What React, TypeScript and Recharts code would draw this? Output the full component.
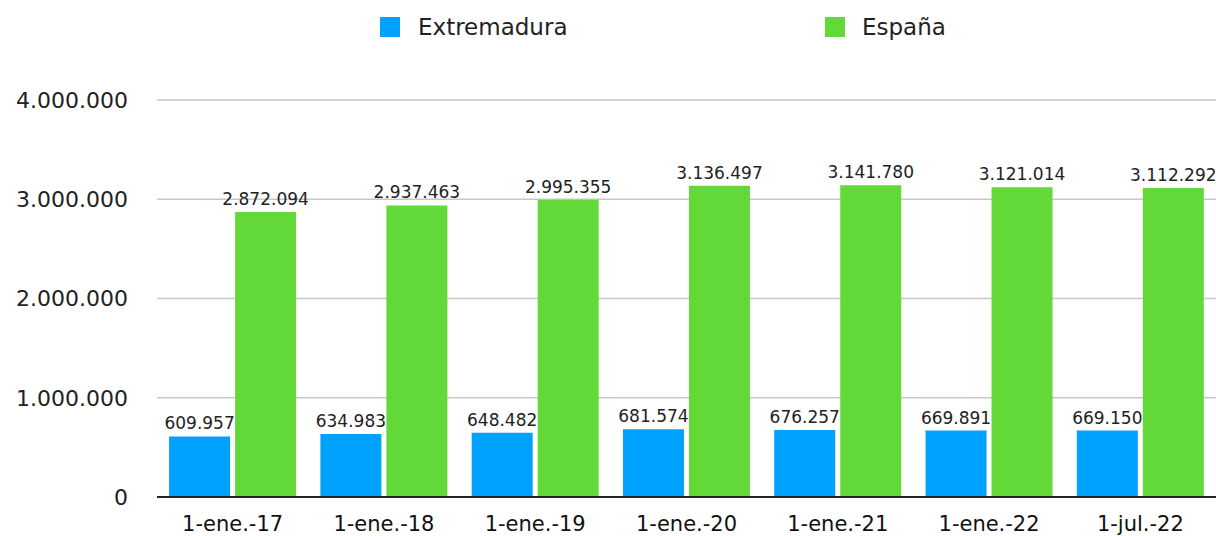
import { BarChart, Bar, XAxis, YAxis, CartesianGrid, LabelList } from "recharts";

const categories = ["1-ene.-17", "1-ene.-18", "1-ene.-19", "1-ene.-20", "1-ene.-21", "1-ene.-22", "1-jul.-22"];
const extremadura = [609957, 634983, 648482, 681574, 676257, 669891, 669150];
const espana = [2872094, 2937463, 2995355, 3136497, 3141780, 3121014, 3112292];
const yTicks = [0, 1000000, 2000000, 3000000, 4000000];

const BLUE = "#00A2FF";
const GREEN = "#62D939";
const FONT = "'DejaVu Sans', 'Noto Sans', sans-serif";

const data = categories.map((name, i) => ({
  name,
  extremadura: extremadura[i],
  espana: espana[i],
}));

// thousands with dots, like the Spanish source
const fmt = (v: number) => String(Math.round(v)).replace(/\B(?=(\d{3})+(?!\d))/g, ".");

export default function App() {
  return (
    <div style={{ position: "fixed", top: 0, left: 0, width: 1216, height: 536, background: "#fff" }}>
      {/* legend drawn over the chart so it takes no plot space */}
      <div style={{ position: "absolute", top: 0, left: 0, width: 1216, height: 60, fontFamily: FONT, fontSize: 23, color: "#222" }}>
        <div style={{ position: "absolute", left: 380, top: 17, width: 20, height: 20, background: BLUE }} />
        <span style={{ position: "absolute", left: 418, top: 13, lineHeight: "28px" }}>Extremadura</span>
        <div style={{ position: "absolute", left: 825, top: 17, width: 20, height: 20, background: GREEN }} />
        <span style={{ position: "absolute", left: 862, top: 13, lineHeight: "28px" }}>España</span>
      </div>
      <BarChart
        width={1216}
        height={536}
        data={data}
        margin={{ top: 100, right: 0, left: 0, bottom: 0 }}
        barCategoryGap="8%"
        barGap={5}
      >
        <CartesianGrid vertical={false} stroke="#c8c8c8" strokeWidth={1.5} />
        <XAxis
          dataKey="name"
          height={39}
          tickSize={0}
          tickMargin={19}
          axisLine={{ stroke: "#222", strokeWidth: 2 }}
          tick={{ fill: "#111", fontSize: 21, fontFamily: FONT }}
        />
        <YAxis
          width={157}
          domain={[0, 4000000]}
          ticks={yTicks}
          interval={0}
          tickFormatter={fmt}
          axisLine={false}
          tickLine={false}
          tickSize={0}
          tickMargin={29}
          tick={{ fill: "#222", fontSize: 22, fontFamily: FONT }}
        />
        <Bar dataKey="extremadura" name="Extremadura" fill={BLUE} isAnimationActive={false}>
          <LabelList dataKey="extremadura" position="top" offset={7} formatter={fmt} fill="#222" fontSize={17} fontFamily={FONT} />
        </Bar>
        <Bar dataKey="espana" name="España" fill={GREEN} isAnimationActive={false}>
          <LabelList dataKey="espana" position="top" offset={7} formatter={fmt} fill="#222" fontSize={17} fontFamily={FONT} />
        </Bar>
      </BarChart>
    </div>
  );
}
